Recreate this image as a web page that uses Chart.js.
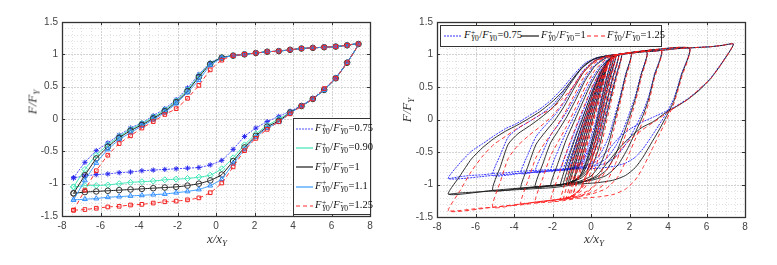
<!DOCTYPE html>
<html>
<head>
<meta charset="utf-8">
<script src="https://cdn.jsdelivr.net/npm/chart.js@4.4.1/dist/chart.umd.min.js"></script>
<style>
  body { margin: 0; width: 777px; height: 265px; background: #fff; position: relative; overflow: hidden; }
  canvas { position: absolute; top: 0; }
  #leftChart { left: 0; width: 385px; height: 265px; }
  #rightChart { left: 385px; width: 392px; height: 265px; }
  .fr { font-family: 'Liberation Serif', 'DejaVu Serif', serif; font-size: 10.5px; white-space: nowrap; color: #111; }
  .ss { display: inline-block; vertical-align: -3px; font-size: 7.5px; line-height: 6.5px; margin: 0 0.5px; }
  .ss span { display: block; }
  .legend { position: absolute; background: #fff; border: 1px solid #333; box-sizing: border-box; }
  .row { position: absolute; height: 19px; display: flex; align-items: center; }
  .row svg, .item svg { flex: none; }
  .item { position: absolute; top: 0; height: 20px; display: flex; align-items: center; }
  .title { position: absolute; font-family: 'Liberation Serif', serif; font-style: italic; font-size: 13px; color: #333; white-space: nowrap; transform: translate(-50%, -50%); }
  .title sub { font-size: 9px; vertical-align: -3px; }
  .rot { transform: translate(-50%, -50%) rotate(-90deg); }
</style>
</head>
<body>
<canvas id="leftChart" width="385" height="265"></canvas>
<canvas id="rightChart" width="392" height="265"></canvas>

<div class="legend" id="legL" style="left:293px; top:118px; width:78px; height:97px;"></div>
<div class="legend" id="legR" style="left:440px; top:25px; width:222px; height:22px;"></div>

<div class="title" style="left:217px; top:239px;">x/x<sub>Y</sub></div>
<div class="title rot" style="left:33px; top:102px;">F/F<sub>Y</sub></div>
<div class="title" style="left:594px; top:239px;">x/x<sub>Y</sub></div>
<div class="title rot" style="left:407px; top:110px;">F/F<sub>Y</sub></div>

<script>
// ===== Axes =====
const xTicks = [-8, -6, -4, -2, 0, 2, 4, 6, 8];
const yTicks = [-1.5, -1, -0.5, 0, 0.5, 1, 1.5];

// ===== Left plot: one large loop per ratio =====
const ratiosLeft = ['0.75', '0.90', '1', '1.1', '1.25'];
const xLoop = [-7.4, -6.81, -6.22, -5.62, -5.03, -4.44, -3.85, -3.26, -2.66, -2.07, -1.48, -0.89, -0.3,
               0.3, 0.89, 1.48, 2.07, 2.66, 3.26, 3.85, 4.44, 5.03, 5.62, 6.22, 6.81, 7.4];

// loading branch (x increasing)
const up075 = [-0.91, -0.67, -0.49, -0.37, -0.25, -0.14, -0.06, 0.05, 0.16, 0.30, 0.48, 0.69, 0.87, 0.95, 0.98, 1.00, 1.02, 1.04, 1.05, 1.07, 1.09, 1.10, 1.11, 1.12, 1.14, 1.16];
const up090 = [-1.05, -0.78, -0.56, -0.40, -0.27, -0.16, -0.07, 0.03, 0.14, 0.28, 0.45, 0.67, 0.86, 0.95, 0.98, 1.00, 1.02, 1.04, 1.05, 1.07, 1.09, 1.10, 1.11, 1.12, 1.14, 1.16];
const up100 = [-1.15, -0.87, -0.61, -0.43, -0.29, -0.18, -0.09, 0.01, 0.12, 0.26, 0.43, 0.65, 0.85, 0.95, 0.98, 1.00, 1.02, 1.04, 1.05, 1.07, 1.09, 1.10, 1.11, 1.12, 1.14, 1.16];
const up110 = [-1.25, -0.95, -0.68, -0.47, -0.32, -0.21, -0.11, -0.01, 0.10, 0.24, 0.41, 0.60, 0.83, 0.94, 0.98, 1.00, 1.02, 1.04, 1.05, 1.07, 1.09, 1.10, 1.11, 1.12, 1.14, 1.16];
const up125 = [-1.41, -1.10, -0.80, -0.56, -0.38, -0.26, -0.14, -0.04, 0.07, 0.16, 0.32, 0.52, 0.76, 0.91, 0.98, 1.00, 1.02, 1.04, 1.05, 1.07, 1.09, 1.10, 1.11, 1.12, 1.14, 1.16];

// unloading branch (same x, read right to left)
const dn075 = [-0.91, -0.88, -0.86, -0.85, -0.83, -0.82, -0.80, -0.79, -0.78, -0.77, -0.76, -0.75, -0.71, -0.64, -0.47, -0.27, -0.14, -0.04, 0.04, 0.12, 0.21, 0.32, 0.46, 0.64, 0.88, 1.16];
const dn090 = [-1.05, -1.03, -1.03, -1.02, -1.00, -0.98, -0.97, -0.96, -0.94, -0.93, -0.92, -0.90, -0.87, -0.77, -0.60, -0.40, -0.23, -0.10, 0.00, 0.10, 0.20, 0.31, 0.45, 0.63, 0.87, 1.16];
const dn100 = [-1.15, -1.13, -1.12, -1.11, -1.10, -1.09, -1.08, -1.07, -1.06, -1.05, -1.03, -1.00, -0.95, -0.86, -0.65, -0.44, -0.26, -0.12, -0.03, 0.10, 0.20, 0.31, 0.45, 0.63, 0.87, 1.16];
const dn110 = [-1.25, -1.24, -1.23, -1.21, -1.20, -1.19, -1.18, -1.17, -1.16, -1.14, -1.12, -1.09, -1.03, -0.93, -0.69, -0.47, -0.28, -0.14, -0.05, 0.09, 0.20, 0.31, 0.45, 0.63, 0.87, 1.16];
const dn125 = [-1.41, -1.40, -1.38, -1.36, -1.35, -1.33, -1.32, -1.30, -1.28, -1.27, -1.25, -1.22, -1.14, -0.99, -0.74, -0.49, -0.30, -0.16, -0.04, 0.08, 0.20, 0.31, 0.47, 0.63, 0.87, 1.16];

// ===== Right plot: cycles of growing amplitude (small -> large), then the large loop above =====
// amplitudes: 0.9, 1.1, 1.2, 1.3, 1.45, 1.6, 2.1, 2.9, 3.65, 5.1
const ratiosRight = ['0.75', '1', '1.25'];
const cycX = [
  [-0.9, -0.5, -0.1, 0.3, 0.65, 0.9, 0.6, 0.2, -0.2, -0.6, -0.9],
  [-1.1, -0.7, -0.3, 0.1, 0.5, 0.85, 1.1, 0.8, 0.5, 0.2, -0.2, -0.6, -1.1],
  [-1.2, -0.8, -0.4, 0.0, 0.4, 0.8, 1.2, 0.9, 0.6, 0.3, -0.1, -0.5, -0.9, -1.2],
  [-1.3, -0.9, -0.5, -0.1, 0.3, 0.8, 1.3, 1.0, 0.7, 0.4, 0.0, -0.4, -0.8, -1.3],
  [-1.45, -1.05, -0.65, -0.25, 0.15, 0.6, 1.0, 1.45, 1.15, 0.85, 0.55, 0.2, -0.2, -0.7, -1.1, -1.45],
  [-1.6, -1.2, -0.8, -0.4, 0.0, 0.5, 1.0, 1.6, 1.3, 1.0, 0.7, 0.4, 0.0, -0.5, -1.0, -1.6],
  [-2.1, -1.7, -1.3, -0.9, -0.5, 0.0, 0.5, 1.0, 1.4, 2.1, 1.8, 1.5, 1.2, 0.9, 0.5, 0.0, -0.6, -1.4, -2.1],
  [-2.9, -2.5, -2.1, -1.7, -1.3, -0.8, -0.3, 0.2, 0.8, 1.4, 2.9, 2.6, 2.3, 2.0, 1.7, 1.3, 0.8, 0.2, -0.5, -1.4, -2.9],
  [-3.65, -3.25, -2.85, -2.4, -1.9, -1.4, -0.9, -0.4, 0.2, 0.8, 1.4, 3.65, 3.3, 3.0, 2.7, 2.3, 1.9, 1.4, 0.8, 0.1, -0.7, -1.4, -3.65],
  [-5.1, -4.7, -4.3, -3.8, -3.2, -2.6, -2.0, -1.5, -1.0, -0.5, 0.1, 0.8, 1.4, 5.1, 4.7, 4.3, 3.9, 3.5, 3.1, 2.7, 2.3, 1.8, 1.2, 0.4, -0.5, -1.4, -5.1]
];
const cyc075 = [
  [-0.76, -0.38, 0.00, 0.36, 0.68, 0.90, 0.60, 0.20, -0.20, -0.58, -0.76],
  [-0.77, -0.42, -0.08, 0.26, 0.60, 0.86, 0.97, 0.65, 0.30, -0.08, -0.45, -0.68, -0.77],
  [-0.77, -0.44, -0.10, 0.24, 0.58, 0.86, 0.98, 0.66, 0.31, -0.06, -0.44, -0.66, -0.74, -0.77],
  [-0.78, -0.45, -0.10, 0.22, 0.55, 0.85, 0.99, 0.67, 0.32, -0.06, -0.42, -0.64, -0.74, -0.78],
  [-0.78, -0.45, -0.12, 0.18, 0.50, 0.80, 0.94, 1.00, 0.68, 0.33, -0.02, -0.36, -0.60, -0.71, -0.75, -0.78],
  [-0.78, -0.46, -0.15, 0.14, 0.45, 0.76, 0.93, 1.01, 0.68, 0.34, 0.00, -0.33, -0.58, -0.70, -0.75, -0.78],
  [-0.79, -0.47, -0.20, 0.04, 0.30, 0.60, 0.83, 0.95, 0.99, 1.02, 0.70, 0.34, 0.02, -0.28, -0.52, -0.67, -0.74, -0.77, -0.79],
  [-0.81, -0.50, -0.24, -0.08, 0.10, 0.36, 0.64, 0.84, 0.96, 1.00, 1.04, 0.70, 0.36, 0.10, -0.14, -0.40, -0.60, -0.70, -0.75, -0.77, -0.81],
  [-0.83, -0.52, -0.26, -0.10, 0.06, 0.26, 0.52, 0.75, 0.91, 0.97, 1.00, 1.06, 0.70, 0.36, 0.12, -0.12, -0.34, -0.54, -0.67, -0.72, -0.75, -0.77, -0.83],
  [-0.86, -0.54, -0.27, -0.14, -0.03, 0.08, 0.22, 0.40, 0.60, 0.79, 0.92, 0.98, 1.00, 1.10, 0.70, 0.32, 0.09, -0.10, -0.28, -0.45, -0.58, -0.67, -0.72, -0.75, -0.76, -0.77, -0.86]
];
const cyc100 = [
  [-0.92, -0.50, -0.10, 0.30, 0.65, 0.90, 0.55, 0.12, -0.30, -0.70, -0.92],
  [-0.97, -0.58, -0.20, 0.20, 0.57, 0.85, 0.97, 0.62, 0.25, -0.15, -0.60, -0.88, -0.97],
  [-0.99, -0.60, -0.20, 0.18, 0.55, 0.85, 0.98, 0.63, 0.27, -0.12, -0.56, -0.84, -0.95, -0.99],
  [-1.00, -0.60, -0.22, 0.15, 0.50, 0.83, 0.99, 0.65, 0.28, -0.12, -0.55, -0.82, -0.94, -1.00],
  [-1.00, -0.62, -0.25, 0.10, 0.45, 0.78, 0.94, 1.00, 0.66, 0.30, -0.08, -0.48, -0.78, -0.92, -0.97, -1.00],
  [-1.01, -0.62, -0.27, 0.05, 0.38, 0.72, 0.92, 1.01, 0.66, 0.30, -0.08, -0.45, -0.75, -0.90, -0.96, -1.01],
  [-1.02, -0.66, -0.32, -0.05, 0.22, 0.55, 0.80, 0.94, 0.99, 1.02, 0.68, 0.30, -0.05, -0.38, -0.68, -0.87, -0.95, -0.99, -1.02],
  [-1.04, -0.68, -0.36, -0.17, 0.02, 0.30, 0.60, 0.82, 0.95, 1.00, 1.04, 0.68, 0.32, 0.04, -0.22, -0.52, -0.78, -0.90, -0.96, -1.00, -1.04],
  [-1.06, -0.70, -0.38, -0.20, -0.02, 0.20, 0.47, 0.72, 0.90, 0.97, 1.00, 1.06, 0.68, 0.32, 0.06, -0.20, -0.45, -0.70, -0.86, -0.93, -0.97, -1.00, -1.06],
  [-1.09, -0.72, -0.38, -0.22, -0.10, 0.03, 0.18, 0.36, 0.58, 0.78, 0.92, 0.98, 1.00, 1.10, 0.68, 0.28, 0.04, -0.18, -0.38, -0.58, -0.74, -0.86, -0.93, -0.97, -0.99, -1.00, -1.09]
];
const cyc125 = [
  [-1.12, -0.68, -0.24, 0.20, 0.58, 0.88, 0.48, 0.04, -0.40, -0.86, -1.12],
  [-1.20, -0.78, -0.35, 0.10, 0.50, 0.83, 0.97, 0.55, 0.15, -0.30, -0.80, -1.08, -1.20],
  [-1.22, -0.80, -0.36, 0.08, 0.48, 0.82, 0.98, 0.56, 0.17, -0.26, -0.74, -1.04, -1.16, -1.22],
  [-1.23, -0.80, -0.38, 0.05, 0.45, 0.80, 0.99, 0.58, 0.20, -0.22, -0.68, -1.00, -1.16, -1.23],
  [-1.24, -0.82, -0.40, 0.00, 0.38, 0.74, 0.92, 1.00, 0.60, 0.22, -0.18, -0.60, -0.95, -1.12, -1.19, -1.24],
  [-1.24, -0.84, -0.44, -0.06, 0.30, 0.68, 0.91, 1.01, 0.60, 0.22, -0.18, -0.58, -0.92, -1.10, -1.18, -1.24],
  [-1.25, -0.88, -0.52, -0.20, 0.10, 0.46, 0.75, 0.92, 0.99, 1.02, 0.62, 0.24, -0.14, -0.50, -0.84, -1.06, -1.16, -1.21, -1.25],
  [-1.27, -0.90, -0.56, -0.34, -0.12, 0.18, 0.50, 0.76, 0.93, 1.00, 1.04, 0.63, 0.26, -0.04, -0.32, -0.66, -0.96, -1.10, -1.17, -1.22, -1.27],
  [-1.30, -0.92, -0.58, -0.36, -0.16, 0.08, 0.36, 0.64, 0.87, 0.96, 1.00, 1.06, 0.64, 0.26, -0.02, -0.30, -0.58, -0.88, -1.06, -1.14, -1.19, -1.22, -1.30],
  [-1.35, -0.95, -0.60, -0.40, -0.24, -0.10, 0.06, 0.24, 0.47, 0.70, 0.89, 0.97, 1.00, 1.10, 0.64, 0.24, -0.02, -0.26, -0.50, -0.74, -0.93, -1.07, -1.15, -1.19, -1.21, -1.22, -1.35]
];

// ===== Helpers =====
function loopPoints(xs, up, dn) {
    const pts = xs.map((x, i) => ({ x, y: up[i] }));
    for (let i = xs.length - 2; i >= 0; i--) pts.push({ x: xs[i], y: dn[i] });
    return pts;
}

function cyclePoints(xsList, ysList) {
    return xsList.flatMap((xs, k) => xs.map((x, i) => ({ x, y: ysList[k][i] })));
}

function crisp(p) {
    return Math.round(p) + 0.5;
}

// grid (major + minor), frame box and inward ticks like the original figure
const gridBox = {
    id: 'gridBox',
    beforeDatasetsDraw(chart) {
        const { ctx, chartArea: a } = chart;
        const sx = chart.scales.x, sy = chart.scales.y;
        ctx.save();
        ctx.lineWidth = 1;
        ctx.strokeStyle = '#e2e2e2';
        ctx.setLineDash([1, 2]);
        ctx.beginPath();
        for (let i = -16; i <= 16; i++) {
            const p = crisp(sx.getPixelForValue(i / 2));
            ctx.moveTo(p, a.top); ctx.lineTo(p, a.bottom);
        }
        for (let i = -15; i <= 15; i++) {
            const p = crisp(sy.getPixelForValue(i / 10));
            ctx.moveTo(a.left, p); ctx.lineTo(a.right, p);
        }
        ctx.stroke();
        ctx.strokeStyle = '#d2d2d2';
        ctx.setLineDash([2, 1]);
        ctx.beginPath();
        xTicks.forEach(v => {
            const p = crisp(sx.getPixelForValue(v));
            ctx.moveTo(p, a.top); ctx.lineTo(p, a.bottom);
        });
        yTicks.forEach(v => {
            const p = crisp(sy.getPixelForValue(v));
            ctx.moveTo(a.left, p); ctx.lineTo(a.right, p);
        });
        ctx.stroke();
        ctx.restore();
    },
    afterDatasetsDraw(chart) {
        const { ctx, chartArea: a } = chart;
        const sx = chart.scales.x, sy = chart.scales.y;
        ctx.save();
        ctx.strokeStyle = '#333';
        ctx.lineWidth = 1;
        ctx.beginPath();
        xTicks.forEach(v => {
            const p = crisp(sx.getPixelForValue(v));
            ctx.moveTo(p, a.bottom); ctx.lineTo(p, a.bottom - 3);
            ctx.moveTo(p, a.top); ctx.lineTo(p, a.top + 3);
        });
        yTicks.forEach(v => {
            const p = crisp(sy.getPixelForValue(v));
            ctx.moveTo(a.left, p); ctx.lineTo(a.left + 3, p);
            ctx.moveTo(a.right, p); ctx.lineTo(a.right - 3, p);
        });
        ctx.stroke();
        ctx.lineWidth = 1.3;
        ctx.strokeRect(crisp(a.left), crisp(a.top), Math.round(a.right - a.left), Math.round(a.bottom - a.top));
        ctx.restore();
    }
};

function axisOptions(yWidth, xHeight) {
    const tickFont = { family: "'Liberation Sans', Arial, sans-serif", size: 10 };
    return {
        x: {
            type: 'linear', min: -8, max: 8,
            afterFit: s => { s.height = xHeight; },
            afterBuildTicks: s => { s.ticks = xTicks.map(v => ({ value: v })); },
            ticks: { color: '#444', font: tickFont, padding: 4, maxRotation: 0, callback: v => String(v) },
            grid: { display: false, drawTicks: false },
            border: { display: false }
        },
        y: {
            type: 'linear', min: -1.5, max: 1.5,
            afterFit: s => { s.width = yWidth; },
            afterBuildTicks: s => { s.ticks = yTicks.map(v => ({ value: v })); },
            ticks: { color: '#444', font: tickFont, padding: 4, callback: v => String(v) },
            grid: { display: false, drawTicks: false },
            border: { display: false }
        }
    };
}

const baseOptions = {
    responsive: false,
    animation: false,
    events: [],
    plugins: { legend: { display: false }, tooltip: { enabled: false } }
};

// ===== Left chart =====
const leftStyles = [
    { up: up075, dn: dn075, line: '#5252ff', mark: '#2a2aee', dash: [2, 1], point: 'star', r: 2.6 },
    { up: up090, dn: dn090, line: '#3ee8b8', mark: '#3ee8b8', dash: [], point: 'rectRot', r: 3 },
    { up: up100, dn: dn100, line: '#1a1a1a', mark: '#333', dash: [], point: 'circle', r: 2.8 },
    { up: up110, dn: dn110, line: '#3a9bff', mark: '#2f8cff', dash: [], point: 'triangle', r: 2.8 },
    { up: up125, dn: dn125, line: '#ff3030', mark: '#f02020', dash: [4, 3], point: 'rect', r: 2.6 }
];

new Chart(document.getElementById('leftChart'), {
    type: 'scatter',
    data: {
        datasets: leftStyles.map((s, i) => ({
            label: ratiosLeft[i],
            data: loopPoints(xLoop, s.up, s.dn),
            showLine: true,
            borderColor: s.line,
            borderWidth: 1,
            borderDash: s.dash,
            tension: 0.15,
            pointStyle: s.point,
            pointRadius: s.r,
            pointBorderColor: s.mark,
            pointBackgroundColor: 'rgba(0,0,0,0)',
            pointBorderWidth: 1,
            order: leftStyles.length - i
        }))
    },
    options: {
        ...baseOptions,
        layout: { padding: { top: 22, right: 15, left: 0, bottom: 0 } },
        scales: axisOptions(62, 49)
    },
    plugins: [gridBox]
});

// ===== Right chart =====
const rightStyles = [
    { up: up075, dn: dn075, cyc: cyc075, line: '#3434ff', dash: [2, 1], w: 1 },
    { up: up100, dn: dn100, cyc: cyc100, line: '#1a1a1a', dash: [], w: 0.9 },
    { up: up125, dn: dn125, cyc: cyc125, line: '#ff1f1f', dash: [4, 3], w: 0.9 }
];

new Chart(document.getElementById('rightChart'), {
    type: 'scatter',
    data: {
        datasets: rightStyles.map((s, i) => ({
            label: ratiosRight[i],
            data: cyclePoints(cycX, s.cyc).concat(loopPoints(xLoop, s.up, s.dn)),
            showLine: true,
            borderColor: s.line,
            borderWidth: s.w,
            borderDash: s.dash,
            tension: 0.2,
            pointRadius: 0,
            order: rightStyles.length - i
        }))
    },
    options: {
        ...baseOptions,
        layout: { padding: { top: 22, right: 32, left: 0, bottom: 0 } },
        scales: axisOptions(52, 48)
    },
    plugins: [gridBox]
});

// ===== Legends (HTML so the super/subscripts stay real text) =====
function ratioLabel(val) {
    return '<span class="fr"><i>F</i><span class="ss"><span>+</span><span><i>Y</i>0</span></span>/' +
           '<i>F</i><span class="ss"><span>-</span><span><i>Y</i>0</span></span>=' + val + '</span>';
}

function sample(color, dash, w) {
    return `<svg width="${w}" height="6"><line x1="0" y1="3" x2="${w}" y2="3" stroke="${color}" stroke-width="1.2" stroke-dasharray="${dash.join(' ')}"/></svg>`;
}

const legL = document.getElementById('legL');
leftStyles.forEach((s, i) => {
    const row = document.createElement('div');
    row.className = 'row';
    row.style.left = '2px';
    row.style.top = (0.5 + i * 19.2) + 'px';
    row.innerHTML = sample(s.line, s.dash, 17) + '<span style="width:2px"></span>' + ratioLabel(ratiosLeft[i]);
    legL.appendChild(row);
});

const legR = document.getElementById('legR');
const legRLeft = [3, 80, 146];
rightStyles.forEach((s, i) => {
    const item = document.createElement('div');
    item.className = 'item';
    item.style.left = legRLeft[i] + 'px';
    item.innerHTML = sample(s.line, s.dash, 18) + '<span style="width:2px"></span>' + ratioLabel(ratiosRight[i]);
    legR.appendChild(item);
});
</script>
</body>
</html>
